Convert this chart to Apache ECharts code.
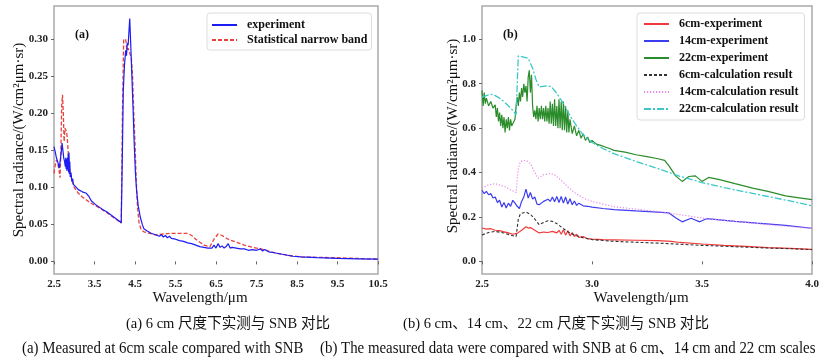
<!DOCTYPE html>
<html><head><meta charset="utf-8">
<script src="https://cdn.jsdelivr.net/npm/echarts@6/dist/echarts.min.js"></script>
<style>html,body{margin:0;padding:0;background:#fff}#c{width:838px;height:360px}</style>
</head><body><div id="c"></div>
<script>
// ---- Panel (a) ----
const expX = [2.50,2.53,2.56,2.60,2.63,2.65,2.68,2.70,2.72,2.74,2.76,2.78,2.79,2.80,2.81,2.82,2.83,2.84,2.85,2.86,2.87,2.88,2.89,2.90,2.92,2.94,2.96,2.98,3.00,3.05,3.10,3.20,3.30,3.36,3.42,3.46,3.52,3.60,3.70,3.80,3.90,4.00,4.10,4.16,4.19,4.21,4.24,4.27,4.29,4.31,4.33,4.35,4.37,4.39,4.42,4.45,4.48,4.51,4.54,4.58,4.63,4.68,4.72,4.80,4.90,5.00,5.10,5.15,5.20,5.25,5.30,5.35,5.40,5.50,5.60,5.70,5.80,5.90,6.00,6.10,6.20,6.30,6.40,6.45,6.50,6.55,6.60,6.65,6.70,6.75,6.80,6.85,6.90,7.00,7.10,7.20,7.30,7.40,7.50,7.60,7.65,7.70,7.80,7.90,8.00,8.20,8.40,8.60,9.00,9.50,10.00,10.50];
const expY = [0.155,0.148,0.140,0.133,0.126,0.128,0.148,0.160,0.150,0.140,0.135,0.128,0.140,0.125,0.138,0.122,0.140,0.124,0.145,0.120,0.147,0.118,0.135,0.114,0.120,0.108,0.112,0.104,0.105,0.100,0.097,0.094,0.092,0.088,0.082,0.080,0.077,0.074,0.070,0.067,0.063,0.059,0.055,0.052,0.150,0.230,0.265,0.285,0.278,0.295,0.292,0.310,0.328,0.300,0.255,0.210,0.160,0.120,0.095,0.075,0.060,0.050,0.044,0.041,0.038,0.036,0.034,0.036,0.033,0.035,0.032,0.034,0.031,0.030,0.028,0.027,0.025,0.024,0.022,0.020,0.019,0.018,0.018,0.022,0.018,0.024,0.019,0.021,0.018,0.020,0.024,0.018,0.019,0.018,0.017,0.017,0.015,0.016,0.015,0.017,0.014,0.016,0.013,0.012,0.011,0.009,0.007,0.006,0.005,0.004,0.0035,0.003];
const snbX = [2.50,2.53,2.56,2.59,2.62,2.65,2.67,2.69,2.71,2.73,2.75,2.77,2.79,2.81,2.83,2.86,2.90,2.95,3.00,3.10,3.20,3.30,3.40,3.50,3.60,3.80,4.00,4.16,4.19,4.22,4.27,4.30,4.33,4.37,4.41,4.44,4.47,4.50,4.53,4.56,4.60,4.65,4.72,4.85,5.00,5.20,5.40,5.60,5.80,5.90,6.00,6.10,6.20,6.35,6.45,6.55,6.65,6.80,7.00,7.20,7.40,7.60,7.80,8.00,8.30,8.60,9.00,9.50,10.00,10.50];
const snbY = [0.119,0.130,0.137,0.133,0.125,0.113,0.150,0.210,0.225,0.200,0.162,0.180,0.182,0.175,0.165,0.140,0.120,0.108,0.100,0.092,0.087,0.083,0.079,0.076,0.073,0.066,0.058,0.052,0.200,0.300,0.300,0.285,0.288,0.290,0.275,0.250,0.200,0.160,0.110,0.075,0.052,0.043,0.040,0.038,0.036,0.037,0.038,0.038,0.038,0.035,0.030,0.026,0.022,0.020,0.030,0.037,0.035,0.030,0.026,0.022,0.019,0.017,0.014,0.011,0.008,0.006,0.0055,0.005,0.004,0.003];
const aXTicks = [2.5,3.5,4.5,5.5,6.5,7.5,8.5,9.5,10.5];
const aYTicks = [0,0.05,0.10,0.15,0.20,0.25,0.30];

// ---- Panel (b) ----
const r6X = [2.50,2.52,2.54,2.56,2.58,2.60,2.62,2.64,2.66,2.68,2.70,2.71,2.72,2.74,2.76,2.78,2.80,2.82,2.84,2.85,2.86,2.87,2.88,2.89,2.90,2.91,2.92,2.93,2.94,2.96,2.98,3.00,3.05,3.10,3.20,3.30,3.36,3.40,3.50,3.60,3.70,3.80,3.90,4.00];
const r6Y = [0.150,0.145,0.147,0.140,0.138,0.133,0.128,0.122,0.126,0.140,0.156,0.150,0.152,0.140,0.128,0.132,0.130,0.135,0.128,0.140,0.122,0.142,0.118,0.138,0.115,0.130,0.112,0.122,0.108,0.112,0.102,0.100,0.098,0.097,0.095,0.093,0.090,0.085,0.078,0.072,0.067,0.062,0.058,0.054];
const c6X = [2.50,2.53,2.56,2.60,2.63,2.655,2.665,2.675,2.70,2.72,2.74,2.76,2.78,2.80,2.82,2.84,2.86,2.88,2.90,2.93,2.96,3.00,3.10,3.20,3.30,3.40,3.50,3.60,3.70,3.80,3.90,4.00];
const c6Y = [0.119,0.130,0.135,0.128,0.118,0.112,0.190,0.215,0.222,0.212,0.190,0.165,0.175,0.183,0.180,0.170,0.155,0.140,0.127,0.115,0.106,0.098,0.090,0.086,0.082,0.077,0.072,0.068,0.064,0.060,0.057,0.053];
const r14X = [2.50,2.51,2.52,2.53,2.54,2.55,2.56,2.57,2.58,2.59,2.60,2.61,2.62,2.63,2.64,2.65,2.66,2.67,2.68,2.69,2.70,2.71,2.72,2.73,2.74,2.75,2.76,2.78,2.80,2.81,2.82,2.83,2.84,2.85,2.86,2.87,2.88,2.89,2.90,2.91,2.92,2.93,2.94,2.96,2.98,3.00,3.05,3.10,3.20,3.28,3.35,3.38,3.41,3.45,3.49,3.52,3.58,3.65,3.75,3.88,4.00];
const r14Y = [0.320,0.305,0.315,0.300,0.305,0.285,0.290,0.265,0.275,0.245,0.265,0.240,0.262,0.248,0.275,0.262,0.248,0.238,0.270,0.290,0.325,0.285,0.310,0.280,0.290,0.258,0.255,0.270,0.280,0.270,0.290,0.268,0.292,0.265,0.292,0.262,0.290,0.258,0.282,0.255,0.272,0.252,0.262,0.250,0.248,0.244,0.238,0.233,0.227,0.223,0.218,0.196,0.178,0.194,0.178,0.192,0.187,0.180,0.172,0.162,0.149];
const c14X = [2.50,2.53,2.56,2.60,2.63,2.655,2.665,2.675,2.70,2.72,2.74,2.755,2.78,2.81,2.83,2.86,2.89,2.92,2.96,3.00,3.05,3.10,3.20,3.30,3.40,3.50,3.60,3.70,3.80,3.90,4.00];
const c14Y = [0.329,0.345,0.350,0.338,0.322,0.310,0.420,0.450,0.455,0.440,0.400,0.374,0.390,0.396,0.390,0.365,0.335,0.310,0.285,0.270,0.258,0.246,0.235,0.224,0.210,0.195,0.185,0.175,0.165,0.156,0.148];
const r22X = [2.500,2.505,2.510,2.515,2.520,2.530,2.540,2.550,2.560,2.565,2.570,2.575,2.580,2.585,2.590,2.595,2.600,2.605,2.610,2.615,2.620,2.625,2.630,2.635,2.640,2.650,2.655,2.660,2.665,2.670,2.675,2.680,2.685,2.690,2.695,2.700,2.705,2.710,2.715,2.720,2.725,2.730,2.735,2.740,2.745,2.750,2.755,2.760,2.765,2.770,2.775,2.780,2.785,2.790,2.795,2.800,2.805,2.810,2.815,2.820,2.825,2.830,2.835,2.840,2.845,2.850,2.855,2.860,2.865,2.870,2.875,2.880,2.885,2.890,2.895,2.900,2.910,2.920,2.930,2.940,2.950,2.960,2.970,2.980,2.990,3.000,3.020,3.040,3.060,3.080,3.100,3.150,3.200,3.250,3.300,3.330,3.350,3.380,3.410,3.440,3.470,3.500,3.530,3.580,3.650,3.730,3.800,3.880,3.950,4.000];
const r22Y = [0.770,0.700,0.760,0.710,0.735,0.700,0.720,0.690,0.705,0.650,0.690,0.630,0.670,0.610,0.660,0.600,0.650,0.580,0.640,0.600,0.650,0.590,0.640,0.610,0.620,0.640,0.700,0.740,0.700,0.760,0.720,0.780,0.740,0.800,0.760,0.790,0.720,0.830,0.860,0.760,0.840,0.700,0.650,0.680,0.640,0.700,0.630,0.690,0.640,0.700,0.640,0.690,0.630,0.700,0.630,0.690,0.620,0.720,0.620,0.710,0.610,0.730,0.610,0.700,0.600,0.730,0.600,0.720,0.590,0.720,0.590,0.700,0.580,0.680,0.580,0.640,0.575,0.610,0.565,0.590,0.555,0.575,0.545,0.560,0.535,0.545,0.528,0.522,0.515,0.508,0.500,0.492,0.480,0.472,0.462,0.455,0.430,0.385,0.360,0.382,0.385,0.360,0.378,0.368,0.350,0.330,0.315,0.295,0.285,0.278];
const c22X = [2.50,2.53,2.55,2.58,2.61,2.64,2.655,2.665,2.69,2.71,2.73,2.745,2.76,2.79,2.815,2.84,2.87,2.90,2.93,2.96,3.00,3.05,3.10,3.20,3.30,3.40,3.50,3.60,3.70,3.80,3.90,4.00];
const c22Y = [0.740,0.750,0.752,0.735,0.710,0.680,0.660,0.925,0.920,0.915,0.870,0.820,0.785,0.790,0.787,0.757,0.710,0.655,0.610,0.570,0.535,0.508,0.485,0.450,0.418,0.383,0.355,0.332,0.312,0.292,0.272,0.250];
const bXTicks = [2.5,3.0,3.5,4.0];
const bYTicks = [0,0.2,0.4,0.6,0.8,1.0];

const zip = (xs, ys) => xs.map((x, i) => [x, ys[i]]);
const SERIF = "'Liberation Serif','Times New Roman',serif";
const CAP = "'Liberation Serif','Noto Sans CJK SC',serif";
const frame = '#a9a9a9';

function xAx(idx, min, max, ticks) {
  return {type:'value', gridIndex: idx, min, max,
    axisLine:{show:false}, splitLine:{show:false},
    axisTick:{show:true, customValues: ticks, length:3, lineStyle:{color:'#666'}},
    axisLabel:{customValues: ticks, formatter: v => v.toFixed(1), fontFamily:SERIF, fontWeight:'bold', fontSize:11, color:'#222', margin:5}};
}
function yAx(idx, min, max, ticks, dec) {
  return {type:'value', gridIndex: idx, min, max,
    axisLine:{show:false}, splitLine:{show:false},
    axisTick:{show:true, customValues: ticks, length:3, lineStyle:{color:'#666'}},
    axisLabel:{customValues: ticks, formatter: v => v.toFixed(dec), fontFamily:SERIF, fontWeight:'bold', fontSize:11, color:'#222', margin:6}};
}
function line(name, xi, xs, ys, color, type, w) {
  return {type:'line', name, xAxisIndex:xi, yAxisIndex:xi, data: zip(xs, ys), symbol:'none', showSymbol:false,
    lineStyle:{color, width:w||1.2, type: type||'solid'}, itemStyle:{color}, animation:false, z: 3};
}
const legendBase = {orient:'vertical', itemWidth:25, itemHeight:14, backgroundColor:'#fff', borderColor:'#dcdcdc', borderWidth:1, borderRadius:3,
  itemStyle:{opacity:0},
  textStyle:{fontFamily:SERIF, fontWeight:'bold', fontSize:12, color:'#111', padding:[0,0,0,5]}};

const chart = echarts.init(document.getElementById('c'));
chart.setOption({
  animation:false,
  grid:[
    {left:54, top:6, width:324, height:268, show:true, borderColor:frame, borderWidth:1.5, backgroundColor:'transparent'},
    {left:482, top:6, width:330, height:268, show:true, borderColor:frame, borderWidth:1.5, backgroundColor:'transparent'}
  ],
  xAxis:[xAx(0, 2.5, 10.5, aXTicks), xAx(1, 2.5, 4.0, bXTicks)],
  yAxis:[yAx(0, -0.017, 0.345, aYTicks, 2), yAx(1, -0.057, 1.15, bYTicks, 1)],
  legend:[
    Object.assign({}, legendBase, {left:207, top:13, itemGap:3, padding:[6,4,4,4], data:['experiment','Statistical narrow band']}),
    Object.assign({}, legendBase, {left:637, top:13, itemGap:5, padding:[5,6,5,6], data:['6cm-experiment','14cm-experiment','22cm-experiment','6cm-calculation result','14cm-calculation result','22cm-calculation result']})
  ],
  series:[
    line('Statistical narrow band', 0, snbX, snbY, '#e8413c', [4,2], 1.3),
    line('experiment', 0, expX, expY, '#1c1cf5', 'solid', 1.2),
    line('6cm-experiment', 1, r6X, r6Y, '#f03a3a', 'solid', 1.2),
    line('14cm-experiment', 1, r14X, r14Y, '#3c3cf0', 'solid', 1.2),
    line('22cm-experiment', 1, r22X, r22Y, '#2a8c2a', 'solid', 1.2),
    line('6cm-calculation result', 1, c6X, c6Y, '#333333', [3,2], 1.1),
    line('14cm-calculation result', 1, c14X, c14Y, '#e68ae6', [1.2,1.8], 1.2),
    line('22cm-calculation result', 1, c22X, c22Y, '#3cc8c8', [7,2,2,2], 1.3)
  ],
  graphic:[
    {type:'text', x:75, y:35, style:{text:'(a)', font:"bold 12px "+SERIF, fill:'#111', textVerticalAlign:'middle'}},
    {type:'text', x:503, y:35, style:{text:'(b)', font:"bold 12px "+SERIF, fill:'#111', textVerticalAlign:'middle'}},
    {type:'text', x:200, y:298, style:{text:'Wavelength/μm', font:"15px "+SERIF, fill:'#111', textAlign:'center', textVerticalAlign:'middle'}},
    {type:'text', x:641, y:298, style:{text:'Wavelength/μm', font:"15px "+SERIF, fill:'#111', textAlign:'center', textVerticalAlign:'middle'}},
    {type:'text', x:19, y:140, rotation:Math.PI/2, style:{text:'Spectral radiance/(W/cm²μm·sr)', font:"15px "+SERIF, fill:'#111', textAlign:'center', textVerticalAlign:'middle'}},
    {type:'text', x:453, y:136, rotation:Math.PI/2, style:{text:'Spectral radiance/(W/cm²μm·sr)', font:"15px "+SERIF, fill:'#111', textAlign:'center', textVerticalAlign:'middle'}},
    {type:'text', x:228, y:324, scaleX:0.97, style:{text:'(a) 6 cm 尺度下实测与 SNB 对比', font:"15px "+CAP, fill:'#111', textAlign:'center', textVerticalAlign:'middle'}},
    {type:'text', x:556, y:324, scaleX:0.97, style:{text:'(b) 6 cm、14 cm、22 cm 尺度下实测与 SNB 对比', font:"15px "+CAP, fill:'#111', textAlign:'center', textVerticalAlign:'middle'}},
    {type:'text', x:22, y:349, scaleX:0.93, style:{text:'(a) Measured at 6cm scale compared with SNB', font:"16px "+CAP, fill:'#111', textAlign:'left', textVerticalAlign:'middle'}},
    {type:'text', x:320, y:349, scaleX:0.93, style:{text:'(b) The measured data were compared with SNB at 6 cm、14 cm and 22 cm scales', font:"16px "+CAP, fill:'#111', textAlign:'left', textVerticalAlign:'middle'}}
  ]
});
</script></body></html>
